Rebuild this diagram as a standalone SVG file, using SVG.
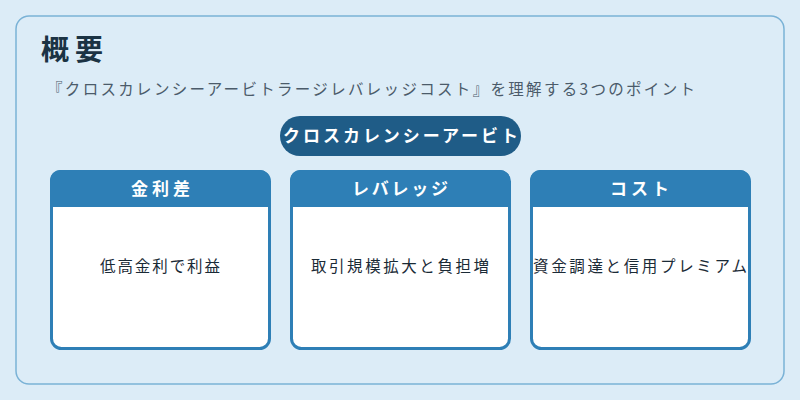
<svg xmlns="http://www.w3.org/2000/svg" width="800" height="400" viewBox="0 0 800 400">
<style>
text{font-family:"Noto Sans CJK JP","Noto Sans",sans-serif}
.card{fill:#fff;stroke:#2e7fb6;stroke-width:3}
.hd{fill:#2e7fb6}
.ht{fill:#fff;font-size:17px;font-weight:bold}
.bt{fill:#1a2a36;font-size:15.5px}
</style>
<rect width="800" height="400" fill="#dcecf7"/>
<rect x="16" y="16" width="768" height="368" rx="13" fill="#dcecf7" stroke="#7ab2d6" stroke-width="1.5"/>
<text x="41" y="60" font-size="28" font-weight="bold" fill="#1b3344" textLength="62" lengthAdjust="spacing">概要</text>
<text x="47" y="95" font-size="15.5" fill="#4b5b6a" textLength="648" lengthAdjust="spacing">『クロスカレンシーアービトラージレバレッジコスト』を理解する3つのポイント</text>
<g id="pill"><rect x="280" y="116" width="241" height="40" rx="20" fill="#1f5c87"/><text x="283" y="142" class="ht" textLength="235" lengthAdjust="spacing">クロスカレンシーアービト</text></g>
<g id="n1"><rect class="card" x="51.5" y="171.5" width="218" height="177" rx="10"/><path class="hd" d="M50 207V180a10 10 0 0 1 10-10h200a10 10 0 0 1 10 10v27z"/><text class="ht" x="131" y="195" textLength="59" lengthAdjust="spacing">金利差</text><text class="bt" x="100" y="272" textLength="120" lengthAdjust="spacing">低高金利で利益</text></g>
<g id="n2"><rect class="card" x="291.5" y="171.5" width="218" height="177" rx="10"/><path class="hd" d="M290 207V180a10 10 0 0 1 10-10h200a10 10 0 0 1 10 10v27z"/><text class="ht" x="352" y="195" textLength="96" lengthAdjust="spacing">レバレッジ</text><text class="bt" x="311" y="272" textLength="178" lengthAdjust="spacing">取引規模拡大と負担増</text></g>
<g id="n3"><rect class="card" x="531.5" y="171.5" width="218" height="177" rx="10"/><path class="hd" d="M530 207V180a10 10 0 0 1 10-10h200a10 10 0 0 1 10 10v27z"/><text class="ht" x="610" y="195" textLength="59" lengthAdjust="spacing">コスト</text><text class="bt" x="533" y="272" textLength="214" lengthAdjust="spacing">資金調達と信用プレミアム</text></g>
<g id="connectors"/>
</svg>
